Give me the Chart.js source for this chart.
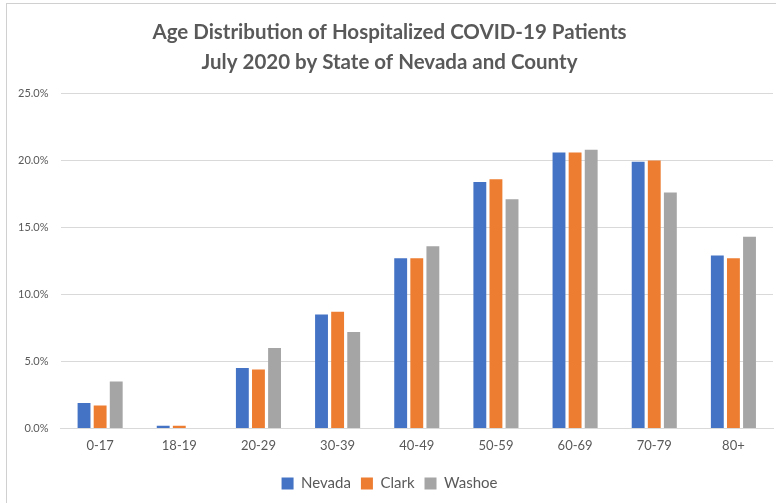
<!DOCTYPE html>
<html>
<head>
<meta charset="utf-8">
<script src="https://cdn.jsdelivr.net/npm/chart.js@4"></script>
<style>
  html, body { margin: 0; padding: 0; background: #fff; }
  #wrap { position: absolute; left: 6px; top: 3px; width: 776px; height: 503px;
          border-left: 1px solid #d0d0d0; border-top: 1px solid #d0d0d0; box-sizing: border-box; }
  #box { position: absolute; left: -6px; top: -3px; width: 776px; height: 503px; }
</style>
</head>
<body>
<div id="wrap"><div id="box"><canvas id="ageChart"></canvas></div></div>
<script>
const ageGroups = ['0-17', '18-19', '20-29', '30-39', '40-49', '50-59', '60-69', '70-79', '80+'];
const nevada = [1.9, 0.2, 4.5, 8.5, 12.7, 18.4, 20.6, 19.9, 12.9];
const clark  = [1.7, 0.2, 4.4, 8.7, 12.7, 18.6, 20.6, 20.0, 12.7];
const washoe = [3.5, 0.0, 6.0, 7.2, 13.6, 17.1, 20.8, 17.6, 14.3];
const titleLines = ['Age Distribution of Hospitalized COVID-19 Patients', 'July 2020 by State of Nevada and County'];

const textColor = '#595959';
const gridColor = '#d9d9d9';

// === bar chart ===
const ctx = document.getElementById('ageChart').getContext('2d');
new Chart(ctx, {
  type: 'bar',
  data: {
    labels: ageGroups,
    datasets: [
      { label: 'Nevada', data: nevada, backgroundColor: '#4472C4' },
      { label: 'Clark', data: clark, backgroundColor: '#ED7D31' },
      { label: 'Washoe', data: washoe, backgroundColor: '#A5A5A5' }
    ]
  },
  options: {
    responsive: true,
    maintainAspectRatio: false,
    animation: false,
    datasets: { bar: { barPercentage: 0.8, categoryPercentage: 0.61 } },
    layout: { padding: { left: 5, right: 4, top: 8, bottom: 3 } },
    plugins: {
      title: {
        display: true,
        text: titleLines,
        color: textColor,
        font: { family: 'Lato', size: 20.5, weight: 'bold', lineHeight: 1.45 },
        padding: { top: 9, bottom: 16 }
      },
      legend: {
        position: 'bottom',
        labels: {
          color: textColor,
          font: { family: 'Lato', size: 15 },
          boxWidth: 12, boxHeight: 12, padding: 10
        }
      },
      tooltip: { enabled: false }
    },
    scales: {
      x: {
        grid: { display: false },
        border: { color: gridColor },
        ticks: { color: textColor, font: { family: 'Lato', size: 13 }, padding: 2 },
        afterFit: axis => { axis.height += 10; }
      },
      y: {
        min: 0, max: 25,
        ticks: {
          stepSize: 5,
          color: textColor,
          font: { family: 'Lato', size: 11 },
          padding: 12,
          callback: v => v.toFixed(1) + '%'
        },
        grid: { color: gridColor, drawTicks: false },
        border: { display: false }
      }
    }
  }
});
</script>
</body>
</html>
